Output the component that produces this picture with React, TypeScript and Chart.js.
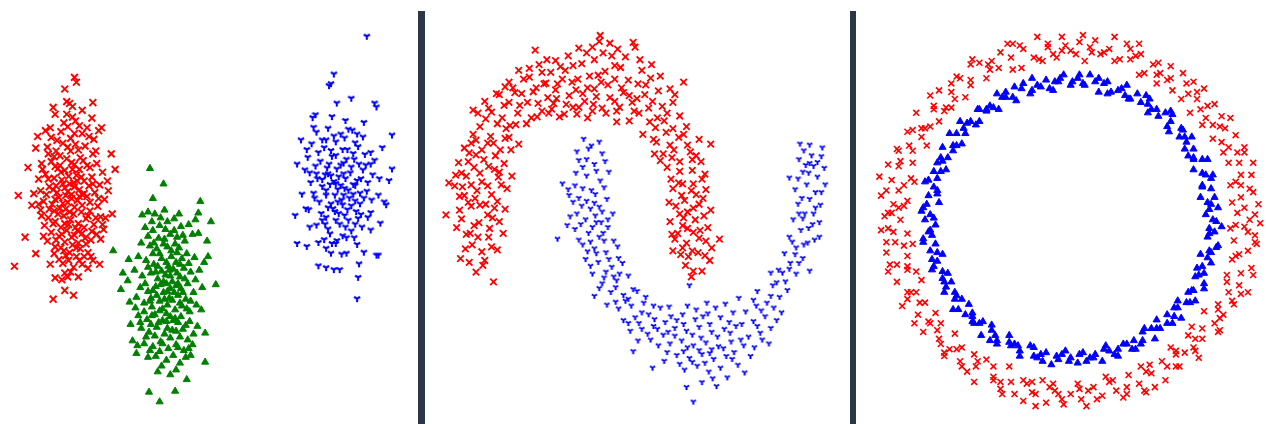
import React, { useEffect, useRef } from "react";
import { Chart, registerables } from "chart.js";

Chart.register(...registerables);

// ---------- Panel 1: three blobs ----------
const blobRed: [number, number][] = [
  [7.0,35.1],[7.2,34.6],[6.0,33.9],[6.5,32.4],[6.8,32.1],[6.2,31.3],[7.8,31.7],[8.8,30.9],[9.8,29.9],[9.5,29.6],
  [5.0,31.3],[4.5,29.9],[4.0,29.6],[3.0,27.8],[11.2,25.6],[1.2,22.9],[2.8,23.1],[3.5,23.4],[0.8,15.6],[3.0,16.9],
  [4.8,12.2],[6.0,13.1],[5.0,14.4],[4.5,15.8],[5.8,15.9],[6.0,14.9],[7.2,16.6],[8.7,16.6],[7.5,16.2],[10.5,23.4],
  [10.2,20.6],[10.0,19.4],[9.7,18.4],[3.6,20.8],[3.5,21.4],
  [4.2,27.9],[5.1,27.5],[5.8,28.3],[6.6,28.8],[7.4,27.6],[8.1,28.0],[8.9,27.2],[4.6,26.4],[5.5,26.0],[6.2,26.7],
  [7.0,26.1],[7.9,26.5],[8.6,25.8],[9.3,26.2],[4.0,25.1],[4.9,24.7],[5.6,25.3],[6.4,24.9],[7.2,25.0],[8.0,24.4],
  [8.8,24.8],[9.6,24.0],[4.4,23.8],[5.2,23.2],[6.0,23.7],[6.7,23.0],[7.5,23.5],[8.3,22.8],[9.1,23.2],[3.8,22.3],
  [4.7,22.0],[5.5,21.6],[6.3,22.2],[7.0,21.7],[7.8,21.9],[8.6,21.3],[9.4,21.8],[4.3,20.6],[5.0,20.2],[5.9,20.8],
  [6.6,20.4],[7.4,20.0],[8.2,20.5],[9.0,19.9],[4.6,19.1],[5.4,18.7],[6.2,19.3],[7.0,18.8],[7.8,19.0],[8.7,18.3],
  [5.0,17.6],[5.9,17.2],[6.8,17.8],[7.6,17.4],[8.4,17.0],[6.4,16.2],
  [5.8,24.1],[6.9,24.2],[6.1,22.9],[7.3,22.4],[5.4,22.7],[6.5,21.2],[7.7,24.8],[6.8,25.6],[5.3,25.7],[4.8,23.5],
  [7.1,19.6],[6.0,20.0],[5.7,18.9],[8.0,23.1],[6.6,27.5],[5.2,28.6],[7.8,29.3],[6.3,30.0],[7.1,30.6],[5.6,29.5],
  [8.3,29.9],[4.6,28.9],[9.0,28.7],[3.6,26.2],[9.9,25.3],[10.1,22.5],[3.3,24.6],[9.7,20.7],[3.9,19.8],[8.9,16.2],
  [5.4,16.3],[6.9,15.5],[7.8,15.8],[6.3,14.5],[8.2,17.9],[4.9,21.3],
  [5.5,27.0],[6.3,27.9],[7.1,28.2],[7.6,26.8],[4.9,26.9],[6.0,25.5],[6.7,26.3],[7.5,25.6],[8.3,26.0],[5.0,25.9],
  [5.7,24.5],[6.5,24.1],[7.3,24.4],[8.5,23.9],[4.3,24.6],[5.1,23.9],[6.3,23.3],[7.0,23.8],[7.8,23.0],[8.9,24.1],
  [4.1,23.0],[5.0,22.5],[5.8,22.1],[6.7,22.6],[7.5,22.8],[8.6,22.2],[4.4,21.5],[5.3,21.0],[6.1,21.5],[6.9,21.0],
  [7.7,21.2],[8.4,20.8],[9.2,20.6],[4.8,20.0],[5.6,19.6],[6.4,19.9],[7.3,19.3],[8.0,19.6],[8.8,19.2],[4.2,18.2],
  [5.1,18.3],[6.0,18.1],[6.7,18.6],[7.4,18.0],[8.1,18.5],[9.3,18.9],[5.6,17.5],[6.5,17.0],[7.2,17.5],[8.0,16.6],
  [6.1,16.7],[4.9,16.9],[7.0,29.3],[8.5,29.0],[5.9,30.4],[6.8,31.0],[7.5,30.1],[9.2,27.5],[4.3,27.2],[3.7,25.6],
  [9.5,22.6],[10.4,24.4],[3.3,22.0],[3.8,18.7],[9.9,19.9],[6.6,15.0],[7.4,14.5],[5.7,14.2],[8.4,15.4],[6.2,32.6],
  [4.8,32.0],[8.9,32.5],[3.2,29.0],[2.2,25.8],[10.8,27.2],[1.9,18.6],[10.9,21.0],[6.9,12.6],[9.6,15.8],[2.6,21.9]
];

const blobGreen: [number, number][] = [
  [14.8,25.7],[16.2,24.1],[15.1,22.6],[20.0,22.3],[19.8,21.1],[21.1,20.2],[11.0,17.2],[20.7,18.2],[20.8,16.6],[21.6,13.7],
  [12.0,14.9],[11.8,13.2],[12.7,11.9],[12.5,14.1],[20.1,11.1],[20.5,8.7],[20.5,5.7],[18.6,3.9],[17.4,2.7],[14.7,2.6],
  [15.8,1.6],[15.6,4.7],[17.5,4.9],[13.5,7.4],[13.0,7.9],[13.4,6.6],[14.6,6.2],[18.5,6.2],[19.0,6.4],[19.2,7.5],[19.7,9.4],
  [14.0,20.9],[14.6,21.2],[15.3,21.0],[15.9,20.6],[16.6,20.2],[17.3,20.5],[18.0,19.7],[18.8,19.9],[19.5,20.4],[14.3,19.6],
  [15.1,19.3],[15.8,19.8],[16.9,18.9],[17.6,18.6],[18.4,18.2],[19.2,18.9],[13.9,18.0],[14.8,17.7],
  [15.5,17.4],[16.2,17.9],[17.0,17.2],[17.8,17.5],[18.6,16.9],[19.4,16.5],[13.6,16.6],[14.4,16.2],[15.2,15.8],[16.0,16.4],
  [16.7,15.6],[17.5,16.0],[18.3,15.4],[19.0,15.0],[13.2,15.2],[14.0,14.6],[14.9,14.9],[15.6,14.3],[16.4,14.7],[17.1,14.0],
  [17.9,14.5],[18.7,13.8],[19.5,14.2],[13.8,13.4],[14.6,13.0],[15.4,13.5],[16.2,12.9],[16.9,13.3],[17.7,12.6],[18.5,12.2],
  [19.3,12.9],[14.2,11.8],[15.0,11.4],[15.8,12.0],[16.6,11.6],[17.4,11.1],[18.1,11.5],[18.9,10.9],[13.6,10.5],[14.5,10.1],
  [15.3,10.6],[16.1,10.0],[16.9,10.4],[17.7,9.8],[18.5,9.5],
  [13.9,9.2],[14.7,8.8],[15.5,9.3],[16.3,8.6],[17.1,9.0],[17.9,8.3],[18.7,8.0],[14.2,7.6],[15.1,7.3],[15.9,7.8],
  [16.7,7.1],[17.5,7.5],[18.3,6.9],[15.4,6.3],[16.5,5.9],[17.2,6.4],
  [16.5,13.8],[17.3,12.9],[16.0,15.1],[17.6,14.9],[16.8,12.3],[17.0,16.6],[16.1,11.2],[15.1,16.9],[16.6,9.2],[14.9,12.3],
  [18.0,13.3],[17.4,10.2],
  [15.0,20.2],[16.3,21.4],[17.8,21.0],[14.6,18.7],[15.7,18.5],[16.4,19.4],[17.3,19.3],[18.2,18.8],[19.8,19.0],[15.2,18.0],
  [16.6,17.6],[17.4,17.9],[18.1,16.4],[15.8,16.9],[16.5,16.0],[17.2,15.3],[17.9,15.8],[18.8,15.9],[14.6,15.5],[15.4,15.0],
  [16.2,14.0],[16.9,14.6],[17.7,13.8],[18.4,14.3],[19.9,15.2],[14.3,13.8],[15.1,13.1],[15.9,13.7],[16.6,13.0],[17.5,13.6],
  [18.2,12.9],[19.0,12.0],[13.4,12.4],[14.8,12.0],[15.5,12.6],[16.3,12.2],[17.1,12.1],[17.9,11.8],[18.6,11.2],[19.6,11.6],
  [14.2,10.9],[15.0,10.5],[15.8,11.0],[16.5,10.7],[17.2,10.0],[18.0,10.4],[18.9,9.9],[13.8,9.8],[14.9,9.6],[15.7,9.8],
  [16.5,9.9],[17.5,8.9],[18.2,9.1],[19.3,8.6],[14.4,8.3],[15.3,8.4],[16.1,7.6],[16.9,8.2],[17.7,7.2],[18.8,7.1],
  [14.8,6.9],[15.8,6.8],[16.0,5.3],[17.9,5.6],[16.9,4.4],[13.3,11.3],[12.8,9.6],[20.2,13.4],[20.4,16.0],[12.6,16.3],
  [16.3,18.4],[15.6,15.6],[17.6,17.0],[16.8,15.2]
];

const blobBlue: [number, number][] = [
  [37.2,39.3],[33.8,35.4],[33.3,34.2],[33.5,34.4],[34.1,32.4],[35.6,32.9],[38.0,32.4],[38.2,32.0],[39.8,29.1],[39.8,25.6],
  [30.4,28.6],[31.6,30.9],[31.9,31.2],[29.8,20.8],[30.0,17.9],[31.0,17.6],[32.2,15.6],[33.0,15.4],[33.8,15.2],[34.4,15.2],
  [36.2,12.2],[36.3,14.4],[38.4,16.7],[38.2,16.7],[39.0,22.2],[39.2,21.9],[39.5,24.4],[38.5,24.6],
  [32.0,29.4],[33.2,29.8],[34.5,29.2],[35.7,29.6],[36.8,28.9],[31.5,28.2],[32.8,27.8],[34.0,28.4],[35.2,27.6],[36.3,27.9],
  [37.6,27.3],[31.1,26.8],[32.4,26.4],[33.6,26.9],[34.8,26.2],[35.9,26.6],[37.1,26.0],[38.0,26.5],[30.8,25.5],[32.0,25.1],
  [33.1,25.7],[34.3,24.8],[35.5,25.2],[36.6,24.6],[37.8,25.0],[31.4,24.2],[32.6,23.8],[33.8,24.3],[34.9,23.6],[36.0,23.9],
  [37.2,23.3],[30.5,23.0],[31.8,22.6],[33.0,22.9],[34.2,22.2],[35.4,22.6],[36.5,22.0],[37.7,22.4],[31.2,21.4],[32.5,21.0],
  [33.7,21.5],[34.9,20.8],[36.1,21.2],[37.3,20.6],[32.0,19.8],[33.2,19.4],[34.4,19.9],[35.6,19.2],[36.7,19.6],[32.8,18.3],
  [34.0,17.9],[35.1,18.5],[36.2,17.8],[34.6,16.8],[33.5,16.9],[36.9,17.0],
  [34.5,23.9],[33.9,22.9],[35.0,24.6],[33.4,24.0],[34.7,21.9],[35.8,23.0],[32.9,25.0],[34.1,25.6],[35.3,20.3],[33.0,20.6],
  [33.0,28.6],[34.9,28.8],[36.2,29.2],[32.2,27.3],[33.5,27.5],[34.7,27.6],[35.8,27.2],[37.0,27.1],[31.9,25.9],[33.3,26.1],
  [34.5,26.0],[35.6,25.8],[36.8,25.5],[31.7,23.1],[33.0,23.4],[34.2,23.5],[35.3,23.4],[36.5,23.1],[32.1,24.6],[33.5,24.9],
  [34.8,25.1],[36.2,24.4],[37.3,24.2],[32.3,22.2],[33.5,22.0],[34.8,22.9],[36.0,22.3],[33.9,21.2],[35.2,21.4],[36.6,20.9],
  [32.6,20.3],[34.0,20.3],[36.0,19.9],[33.4,18.9],[34.7,18.7],[35.9,18.5],[33.6,17.9],[35.1,16.9],[32.2,18.0],[37.6,19.3],
  [30.9,21.5],[38.4,22.9],[38.8,27.8],[30.0,26.1],[35.0,30.6],[33.6,31.0],[36.9,30.4],[37.6,21.1],[31.3,19.6],[36.4,15.8],
  [33.8,29.0],[35.3,29.7],[32.6,28.6],[36.0,28.3],[33.2,25.1],[35.1,26.6],[36.4,26.1],[31.3,25.2],[34.0,27.0],[32.6,24.5],
  [35.8,24.0],[34.0,24.1],[36.9,22.6],[34.6,22.4],[33.2,21.6],[35.6,21.8],[34.3,21.0],[32.9,19.9],[35.0,19.6],[36.3,20.5],
  [34.1,18.2],[33.0,17.4],[37.6,26.1],[31.0,27.6],[38.6,20.0],[31.7,29.9]
];

// ---------- Panel 2: two moons ----------
const moonRed: [number, number][] = [
  [3.0,16.4],[4.2,17.8],[5.5,16.2],[6.8,17.3],[4.6,15.0],[3.6,18.9],[5.9,18.6],[7.4,19.0],[2.6,19.6],[4.9,20.1],
  [6.3,20.6],[2.9,21.4],[4.1,21.8],[5.6,22.0],[7.6,21.5],[1.5,20.9],[6.4,14.0],[5.3,15.7],[3.9,16.0],
  [3.4,22.9],[4.7,23.4],[6.2,23.0],[7.8,23.6],[2.4,23.9],[5.2,24.3],[6.9,24.8],[3.6,24.9],[4.4,25.8],[5.9,25.9],
  [7.5,26.2],[2.8,26.3],[1.8,24.2],[8.3,24.9],[3.8,26.4],
  [3.9,27.3],[5.2,27.6],[6.6,27.0],[8.2,27.6],[4.6,28.6],[6.1,29.0],[7.6,28.8],[9.0,28.2],[5.0,30.0],[6.8,30.3],
  [8.1,30.1],[4.3,29.2],[4.3,31.7],[5.5,32.6],[6.7,33.4],
  [6.2,31.5],[7.5,32.2],[8.9,31.4],[10.3,30.9],[7.0,33.3],[8.6,33.5],[9.9,32.5],[11.4,31.6],[8.0,34.6],[9.5,34.9],
  [10.8,34.0],[12.0,33.0],[10.1,36.0],[11.4,35.6],[10.7,37.9],
  [12.4,31.8],[13.7,31.3],[12.9,32.9],[14.2,33.2],[13.0,34.4],[12.3,35.6],[13.8,35.8],[14.5,34.6],[12.8,36.8],[14.1,37.3],
  [11.6,34.4],
  [15.2,32.0],[16.6,31.6],[15.6,33.4],[17.0,33.1],[15.1,34.9],[16.3,35.2],[17.5,34.6],[15.5,36.5],[16.8,36.9],[15.2,38.1],
  [17.4,39.4],[17.3,38.8],[16.1,30.9],
  [18.0,31.4],[19.4,32.0],[18.4,33.0],[19.8,33.5],[18.9,34.9],[17.9,35.7],[19.5,36.1],[18.6,37.3],[20.3,34.8],[20.8,38.7],
  [21.0,38.2],[19.1,30.5],
  [20.4,30.6],[21.4,31.4],[20.7,32.5],[22.0,33.3],[21.3,34.4],[22.6,35.0],[23.4,33.7],[22.4,31.9],[23.1,29.9],[24.3,31.4],
  [24.9,32.5],[22.7,36.4],[21.8,29.2],[26.0,34.6],[25.1,33.3],
  [23.2,28.4],[24.2,29.4],[25.5,28.9],[26.3,30.0],[23.9,27.2],[25.0,27.6],[26.4,28.1],[27.3,27.0],[24.3,25.8],[25.6,26.4],
  [26.9,25.5],[28.8,28.2],[27.8,26.4],[24.7,24.6],[23.6,26.5],
  [24.9,23.6],[25.8,22.9],[27.0,24.1],[28.3,23.5],[25.2,21.8],[26.4,21.2],[27.6,22.0],[28.8,21.4],[24.6,20.2],[25.9,19.8],
  [27.2,20.4],[28.5,19.6],[26.1,22.4],[27.3,23.0],
  [25.1,18.4],[26.3,18.0],[27.6,18.5],[29.7,18.4],[25.7,16.8],[26.9,17.2],[28.2,16.7],[27.0,15.1],[28.7,16.2],[24.9,17.2],
  [26.2,15.7],[27.9,15.1],
  [3.5,17.4],[4.8,18.6],[6.2,17.6],[3.1,20.5],[4.4,19.8],[5.8,20.9],[7.0,20.2],[3.8,22.2],[5.0,21.9],[6.8,22.3],
  [2.9,22.8],[4.1,24.0],[5.8,23.9],[7.2,24.0],[3.1,25.2],[5.0,25.2],[6.5,25.6],[3.4,27.8],[4.6,27.1],[5.8,28.3],
  [7.1,27.6],[8.0,28.9],[5.6,30.8],[7.3,30.9],[4.8,31.4],
  [8.0,32.5],[9.3,33.4],[9.8,30.3],[11.0,32.4],[10.5,33.6],[11.8,34.5],[12.8,33.8],[13.5,34.9],[11.1,36.4],[13.3,36.2],
  [12.1,31.4],[9.0,35.8],[7.6,34.1],[14.6,36.3],[13.9,32.3],
  [15.0,31.3],[15.8,32.6],[16.7,32.3],[17.6,31.9],[16.1,34.0],[17.2,35.3],[18.2,34.3],[16.0,37.6],[17.7,37.6],[18.9,36.3],
  [19.6,34.0],[20.4,33.2],[20.0,37.2],[21.7,35.8],[19.1,31.6],[18.4,38.6],
  [21.2,32.9],[22.8,32.6],[23.8,32.1],[22.1,34.3],[24.0,30.6],[25.6,31.1],[22.9,28.7],[24.6,28.1],[26.0,29.2],[25.6,25.4],
  [26.9,26.6],[24.8,26.8],[27.6,28.7],[23.3,30.9],[28.2,25.1],
  [25.5,24.2],[26.8,23.4],[28.0,22.6],[25.6,21.0],[27.0,21.6],[28.1,20.8],[26.4,19.5],[27.7,19.3],[24.8,18.9],[26.5,16.6],
  [27.5,17.0],[28.9,17.5],[25.4,19.0],[26.0,20.6],
  [4.0,19.0],[5.2,17.1],[6.0,19.5],[3.2,23.8],[4.5,22.6],[6.5,21.6],[2.5,25.0],[5.4,26.6],[7.0,25.3],[4.1,28.3],
  [6.4,28.3],[7.7,29.8],[5.9,31.9],[8.7,30.2],[9.1,32.2],[10.9,31.0],[8.4,34.0],[10.1,35.1],[11.9,36.9],[12.6,32.4],
  [13.2,31.0],[14.6,32.0],[14.9,33.8],[16.8,33.9],[16.6,38.2],[18.9,32.6],[19.2,38.0],[20.9,31.6],[21.5,36.9],[22.5,30.5],
  [23.6,35.2],[24.6,33.9],[23.0,27.2],[24.9,29.8],[26.7,27.4],[25.9,24.1],[27.9,24.6],[24.5,22.2],[27.0,19.1],[28.3,18.2],
  [25.9,17.5],[26.8,14.5]
];

const moonBlue: [number, number][] = [
  [15.7,28.7],[17.3,28.4],[16.2,27.7],[17.6,27.2],[15.2,26.5],[16.8,26.1],[18.3,25.3],[14.9,25.2],[16.0,24.9],[17.4,24.4],
  [13.5,24.1],[14.1,23.5],[15.6,23.6],[16.9,23.0],[18.1,22.5],
  [14.6,22.2],[15.5,21.8],[16.4,21.5],[17.6,21.2],[18.7,21.0],[14.3,20.7],[15.9,20.4],[17.0,20.1],[18.2,19.6],[14.8,19.4],
  [16.2,19.0],[17.3,18.6],[18.8,18.2],[13.0,18.4],[15.6,17.8],[16.8,17.4],[18.0,17.0],[19.2,17.6],
  [15.9,16.3],[17.2,16.0],[18.6,15.5],[19.7,15.9],[16.6,14.8],[17.8,14.4],[19.1,14.1],[20.3,14.6],[17.3,13.3],[18.5,12.9],
  [19.8,12.6],[21.2,13.0],[16.8,12.5],[18.1,11.6],
  [19.3,11.2],[20.6,11.5],[21.9,11.8],[19.8,10.0],[21.0,10.3],[22.4,10.6],[23.6,11.3],[20.5,8.9],[21.7,9.1],[22.9,9.4],
  [24.1,9.8],[21.3,7.9],[22.6,8.0],[23.9,8.5],[22.8,5.1],[20.8,6.8],[24.5,11.4],[26.6,13.6],
  [24.7,10.4],[25.9,10.6],[27.2,10.1],[28.5,10.7],[29.8,10.3],[31.1,10.8],[25.1,9.2],[26.3,8.9],[27.6,9.3],[28.9,8.8],
  [30.2,9.1],[31.4,9.4],[24.6,7.6],[25.8,7.9],[27.0,7.4],[28.3,7.7],[29.6,7.3],[30.9,7.8],[25.3,6.4],[26.6,6.1],
  [27.9,6.5],[29.1,6.0],[30.4,6.3],[26.1,4.9],[27.4,5.3],[28.6,4.7],[30.5,4.1],[27.0,1.6],[26.3,3.1],[24.0,5.8],
  [31.6,5.4],[32.3,4.6],[28.4,11.8],[31.7,12.3],
  [32.4,10.9],[33.5,11.5],[32.0,9.6],[33.2,9.9],[34.4,10.4],[32.7,8.3],[33.9,8.7],[35.0,9.2],[34.6,11.8],[35.9,12.4],
  [33.3,7.2],[34.8,7.6],[36.1,10.8],[33.6,13.0],[32.9,6.3],
  [35.2,13.6],[36.5,14.0],[37.6,14.8],[35.8,15.2],[37.0,15.9],[38.3,16.4],[36.4,16.9],[37.6,17.5],[38.8,18.0],[40.0,18.6],
  [36.9,18.6],[38.1,19.3],[39.3,19.9],[35.0,14.9],[39.0,15.1],
  [37.3,20.4],[38.5,21.0],[39.6,21.6],[37.8,22.0],[39.0,22.5],[40.2,23.2],[37.5,23.5],[38.7,24.0],[39.8,24.8],[38.3,25.3],
  [39.4,25.9],[40.5,25.7],[37.9,26.6],[39.2,27.0],[40.2,26.9],[39.0,28.1],[38.0,28.2],[36.9,24.7],[40.6,24.0],
  [16.5,28.0],[15.0,27.4],[17.0,25.4],[15.6,25.8],[16.5,23.4],[14.8,23.9],[17.8,23.7],[15.2,22.6],[16.8,22.1],[15.0,21.0],
  [16.9,20.8],[18.2,20.4],[15.4,19.9],[16.6,19.6],[17.7,19.0],[15.2,18.3],[16.4,18.1],[17.8,18.2],[17.0,16.9],[18.3,16.3],
  [16.4,15.6],[18.0,15.0],[19.4,14.8],[17.6,13.8],[19.0,13.4],[20.3,12.2],
  [20.0,12.0],[21.7,10.8],[23.0,10.1],[21.4,9.7],[22.3,8.6],[23.4,7.4],[24.4,8.8],[25.3,10.0],[26.0,9.6],[26.9,8.5],
  [27.8,8.2],[28.7,9.6],[29.5,8.3],[30.8,8.7],[31.9,8.0],[26.4,7.2],[27.6,6.9],[28.9,7.0],[30.1,7.1],[25.6,5.5],
  [26.9,5.7],[28.2,5.6],[29.8,5.1],[31.2,6.7],[27.9,3.6],[29.4,3.2],[26.4,11.5],[30.3,11.7],[24.3,6.7],
  [32.2,7.4],[33.6,9.4],[34.1,8.0],[34.0,11.0],[35.3,11.3],[35.6,10.0],[35.6,13.9],[36.7,13.1],[36.9,15.3],[37.9,15.9],
  [37.5,16.8],[38.4,17.8],[38.9,19.5],[38.3,20.5],[39.4,21.0],[38.2,22.6],[39.6,23.2],[38.9,25.2],[39.8,26.3],[38.6,26.0],
  [40.1,21.9],
  [16.0,26.6],[17.9,26.4],[14.2,22.9],[16.0,22.3],[17.3,21.7],[14.0,19.8],[17.5,20.1],[16.1,17.1],[19.3,16.4],[18.8,14.5],
  [20.8,13.2],[19.0,11.9],[22.1,12.4],[22.9,11.5],[20.3,9.7],[23.3,9.1],[25.1,8.4],[27.3,11.1],[28.0,10.4],[29.3,11.3],
  [30.7,9.8],[26.0,6.8],[28.7,6.6],[31.0,6.0],[29.0,4.0],[33.2,12.1],[35.0,12.5],[36.2,14.9],[37.2,18.1],[39.5,18.3],
  [37.9,21.0],[40.0,20.1],[37.8,24.6],[39.0,26.2],[40.3,27.8],[38.4,27.5]
];

// ---------- Panel 3: two concentric circles ----------
const circleOuter: [number, number][] = [
  [1.02,0.00],[0.95,0.04],[1.07,0.09],[0.97,0.13],[1.02,0.18],[0.91,0.20],[0.97,0.26],[1.04,0.33],[0.90,0.33],[0.95,0.39],
  [0.90,0.42],[0.94,0.49],[0.81,0.47],[0.85,0.54],[0.86,0.60],[0.77,0.59],[0.78,0.66],[0.68,0.62],[0.76,0.76],[0.67,0.73],
  [0.66,0.79],[0.58,0.75],[0.57,0.82],[0.57,0.89],[0.49,0.84],[0.47,0.90],[0.39,0.84],[0.40,0.96],[0.34,0.93],[0.32,1.02],
  [0.25,0.92],[0.22,0.99],[0.17,0.96],[0.14,1.04],[0.08,0.92],[0.05,1.03],
  [0.92,0.10],[1.03,0.26],[0.87,0.39],[0.91,0.59],[0.74,0.64],[0.70,0.80],[0.49,0.79],[0.39,1.02],[0.19,0.97],[0.03,0.96],
  [0.00,0.98],[-0.05,1.06],[-0.08,0.94],[-0.13,1.00],[-0.19,1.06],[-0.21,0.94],[-0.27,0.99],[-0.28,0.88],[-0.34,0.94],[-0.40,0.97],
  [-0.41,0.88],[-0.47,0.90],[-0.48,0.82],[-0.57,0.90],[-0.57,0.81],[-0.63,0.82],[-0.60,0.71],[-0.68,0.74],[-0.75,0.75],[-0.71,0.65],
  [-0.78,0.66],[-0.75,0.57],[-0.88,0.62],[-0.83,0.53],[-0.90,0.52],[-0.82,0.43],[-0.92,0.43],[-0.99,0.41],[-0.90,0.33],[-0.98,0.31],
  [-0.91,0.24],[-1.02,0.23],[-0.98,0.17],[-1.08,0.14],[-0.95,0.08],[-1.02,0.04],
  [-0.03,1.01],[-0.16,0.92],[-0.36,1.02],[-0.52,0.91],[-0.66,0.70],[-0.80,0.72],[-0.85,0.48],[-1.04,0.32],[-0.93,0.11],[-1.06,0.02],
  [-0.97,0.00],[-1.04,-0.05],[-0.93,-0.08],[-1.00,-0.13],[-1.05,-0.19],[-0.93,-0.21],[-0.99,-0.26],[-0.93,-0.29],[-0.99,-0.36],[-0.85,-0.35],
  [-0.91,-0.42],[-0.96,-0.50],[-0.83,-0.48],[-0.87,-0.55],[-0.77,-0.54],[-0.84,-0.65],[-0.76,-0.64],[-0.75,-0.69],[-0.66,-0.66],[-0.72,-0.79],
  [-0.62,-0.74],[-0.63,-0.82],[-0.55,-0.78],[-0.54,-0.85],[-0.55,-0.94],[-0.44,-0.85],[-0.44,-0.93],[-0.35,-0.85],[-0.34,-0.94],[-0.32,-1.01],
  [-0.25,-0.95],[-0.22,-1.00],[-0.16,-0.93],[-0.14,-1.06],[-0.09,-0.99],[-0.05,-1.04],
  [-1.08,-0.06],[-0.90,-0.14],[-1.04,-0.30],[-0.88,-0.42],[-0.80,-0.60],[-0.69,-0.75],[-0.59,-0.88],[-0.40,-0.98],[-0.27,-1.05],[-0.12,-0.97],
  [-0.20,-1.08],
  [0.00,-1.01],[0.04,-0.95],[0.09,-1.08],[0.13,-0.97],[0.18,-1.02],[0.20,-0.91],[0.26,-0.99],[0.32,-1.01],[0.33,-0.90],[0.39,-0.95],
  [0.40,-0.85],[0.46,-0.89],[0.54,-0.93],[0.52,-0.82],[0.60,-0.85],[0.57,-0.74],[0.65,-0.77],[0.73,-0.80],[0.67,-0.67],[0.75,-0.69],
  [0.75,-0.63],[0.84,-0.65],[0.76,-0.53],[0.87,-0.55],[0.84,-0.49],[0.93,-0.49],[0.90,-0.42],[1.01,-0.42],[0.89,-0.32],[0.97,-0.31],
  [1.03,-0.28],[0.94,-0.21],[1.01,-0.18],[0.93,-0.12],[1.05,-0.09],[0.99,-0.04],
  [0.06,-1.04],[0.24,-0.93],[0.43,-1.00],[0.60,-0.78],[0.82,-0.60],[0.70,-0.74],[0.96,-0.38],[1.06,-0.14],[0.91,-0.05],[1.08,-0.02],
  [0.48,-0.97],
  [0.99,0.07],[1.04,0.16],[0.94,0.22],[0.96,0.33],[0.99,0.42],[0.86,0.45],[0.88,0.53],[0.75,0.55],[0.82,0.67],[0.72,0.70],
  [0.63,0.70],[0.64,0.85],[0.55,0.81],[0.50,0.91],[0.42,0.85],[0.37,0.95],[0.28,0.93],[0.25,1.06],[0.12,0.97],[0.07,1.07],
  [-0.05,0.98],[-0.13,1.02],[-0.18,0.93],[-0.29,1.01],[-0.33,0.87],[-0.45,0.92],[-0.56,0.93],[-0.57,0.78],[-0.68,0.79],[-0.68,0.65],
  [-0.78,0.64],[-0.80,0.54],[-0.93,0.51],[-0.90,0.40],[-0.97,0.34],[-0.89,0.22],[-1.05,0.17],[-0.98,0.07],[-1.09,0.25],[-1.01,0.09],
  [-1.01,-0.07],[-0.95,-0.15],[-1.03,-0.26],[-0.88,-0.30],[-0.93,-0.42],[-0.86,-0.48],[-0.89,-0.60],[-0.74,-0.60],[-0.74,-0.72],[-0.65,-0.75],
  [-0.62,-0.85],[-0.48,-0.81],[-0.44,-0.91],[-0.39,-1.01],[-0.27,-0.93],[-0.20,-1.01],[-0.10,-0.95],[-0.04,-1.07],
  [0.05,-0.98],[0.15,-1.04],[0.22,-0.94],[0.32,-0.97],[0.42,-0.99],[0.45,-0.84],[0.55,-0.85],[0.60,-0.76],[0.71,-0.76],[0.69,-0.62],
  [0.85,-0.64],[0.84,-0.52],[0.92,-0.47],[0.89,-0.36],[1.04,-0.32],[0.96,-0.20],[1.05,-0.13],[0.94,-0.03],
  [1.05,0.03],[0.97,0.20],[0.99,0.39],[0.81,0.55],[0.72,0.74],[0.51,0.85],[0.34,0.99],[0.11,1.00],
  [-0.10,0.96],[-0.33,1.02],[-0.46,0.87],[-0.65,0.83],[-0.72,0.63],[-0.85,0.53],[-0.98,0.40],[-0.95,0.20],[-1.04,0.04],
  [-1.05,-0.13],[-0.93,-0.27],[-0.93,-0.46],[-0.81,-0.59],[-0.72,-0.77],[-0.53,-0.82],[-0.40,-0.94],[-0.22,-0.94],[-0.07,-1.01],
  [0.10,-0.99],[0.30,-1.03],[0.43,-0.88],[0.62,-0.85],[0.71,-0.69],[0.85,-0.57],[0.97,-0.43],[0.92,-0.23],[1.01,-0.07]
];

const circleInner: [number, number][] = [
  [0.81,0.00],[0.77,0.03],[0.84,0.07],[0.78,0.10],[0.74,0.13],[0.80,0.18],[0.75,0.20],[0.81,0.26],[0.75,0.27],[0.70,0.29],
  [0.75,0.35],[0.70,0.36],[0.70,0.41],[0.65,0.41],[0.69,0.48],[0.62,0.48],[0.63,0.53],[0.56,0.51],[0.57,0.57],[0.57,0.63],
  [0.50,0.60],[0.49,0.64],[0.44,0.62],[0.45,0.70],[0.40,0.68],[0.38,0.73],[0.33,0.70],[0.32,0.78],[0.27,0.75],[0.23,0.74],
  [0.21,0.80],[0.16,0.74],[0.14,0.80],[0.11,0.84],[0.07,0.79],[0.04,0.82],
  [0.00,0.78],[-0.04,0.84],[-0.07,0.80],[-0.10,0.75],[-0.14,0.81],[-0.17,0.77],[-0.22,0.82],[-0.23,0.73],[-0.28,0.76],[-0.32,0.77],
  [-0.33,0.71],[-0.37,0.71],[-0.42,0.73],[-0.41,0.64],[-0.46,0.66],[-0.48,0.63],[-0.53,0.64],[-0.52,0.57],[-0.57,0.57],[-0.63,0.57],
  [-0.60,0.50],[-0.65,0.50],[-0.62,0.44],[-0.67,0.43],[-0.73,0.42],[-0.70,0.36],[-0.73,0.34],[-0.71,0.29],[-0.78,0.28],[-0.76,0.24],
  [-0.83,0.22],[-0.76,0.17],[-0.81,0.14],[-0.75,0.10],[-0.84,0.07],[-0.80,0.03],
  [-0.83,0.00],[-0.77,-0.03],[-0.81,-0.07],[-0.84,-0.11],[-0.77,-0.14],[-0.80,-0.18],[-0.73,-0.20],[-0.76,-0.24],[-0.79,-0.29],[-0.73,-0.30],
  [-0.73,-0.34],[-0.68,-0.36],[-0.72,-0.42],[-0.66,-0.42],[-0.66,-0.46],[-0.67,-0.52],[-0.58,-0.49],[-0.60,-0.55],[-0.56,-0.56],[-0.55,-0.60],
  [-0.50,-0.59],[-0.51,-0.67],[-0.45,-0.64],[-0.43,-0.67],[-0.42,-0.72],[-0.35,-0.67],[-0.34,-0.73],[-0.30,-0.73],[-0.29,-0.79],[-0.23,-0.73],
  [-0.21,-0.79],[-0.17,-0.78],[-0.14,-0.77],[-0.11,-0.84],[-0.07,-0.81],[-0.03,-0.76],
  [0.00,-0.80],[0.04,-0.83],[0.07,-0.77],[0.11,-0.80],[0.14,-0.78],[0.18,-0.82],[0.20,-0.73],[0.25,-0.78],[0.27,-0.75],[0.30,-0.72],
  [0.35,-0.75],[0.36,-0.70],[0.41,-0.70],[0.41,-0.65],[0.48,-0.69],[0.49,-0.63],[0.49,-0.58],[0.55,-0.60],[0.55,-0.55],[0.63,-0.57],
  [0.61,-0.51],[0.61,-0.47],[0.68,-0.48],[0.67,-0.42],[0.70,-0.41],[0.76,-0.40],[0.71,-0.33],[0.76,-0.31],[0.75,-0.27],[0.80,-0.25],
  [0.74,-0.20],[0.79,-0.18],[0.84,-0.15],[0.78,-0.10],[0.82,-0.07],[0.86,-0.04],
  [0.79,0.06],[0.82,0.13],[0.75,0.19],[0.77,0.26],[0.78,0.35],[0.67,0.37],[0.66,0.45],[0.64,0.52],[0.55,0.54],[0.54,0.62],
  [0.46,0.64],[0.43,0.72],[0.34,0.70],[0.29,0.76],[0.21,0.73],[0.16,0.82],[0.08,0.78],[0.01,0.80],
  [-0.06,0.82],[-0.12,0.76],[-0.19,0.78],[-0.27,0.79],[-0.31,0.69],[-0.39,0.71],[-0.44,0.65],[-0.52,0.64],[-0.54,0.55],[-0.61,0.53],
  [-0.69,0.50],[-0.67,0.40],[-0.74,0.36],[-0.74,0.28],[-0.81,0.23],[-0.76,0.15],[-0.82,0.09],[-0.78,0.01],
  [-0.80,-0.06],[-0.84,-0.13],[-0.76,-0.19],[-0.78,-0.27],[-0.70,-0.31],[-0.71,-0.39],[-0.65,-0.44],[-0.64,-0.52],[-0.56,-0.54],[-0.52,-0.60],
  [-0.45,-0.61],[-0.42,-0.70],[-0.35,-0.71],[-0.29,-0.76],[-0.21,-0.74],[-0.16,-0.82],[-0.08,-0.79],[-0.01,-0.82],
  [0.05,-0.78],[0.13,-0.80],[0.19,-0.75],[0.27,-0.79],[0.32,-0.72],[0.40,-0.72],[0.42,-0.63],[0.51,-0.63],[0.58,-0.60],[0.59,-0.51],
  [0.66,-0.48],[0.69,-0.41],[0.76,-0.37],[0.72,-0.28],[0.78,-0.22],[0.83,-0.16],[0.79,-0.08],[0.83,-0.01],
  [0.80,0.09],[0.80,0.24],[0.70,0.35],[0.65,0.48],[0.58,0.61],[0.44,0.67],[0.31,0.72],[0.19,0.79],[0.05,0.84],
  [-0.09,0.80],[-0.22,0.75],[-0.37,0.74],[-0.48,0.64],[-0.59,0.56],[-0.65,0.43],[-0.76,0.33],[-0.78,0.19],[-0.85,0.05],
  [-0.79,-0.09],[-0.79,-0.23],[-0.72,-0.36],[-0.62,-0.46],[-0.56,-0.59],[-0.46,-0.70],[-0.32,-0.72],[-0.19,-0.80],[-0.05,-0.78],
  [0.09,-0.82],[0.22,-0.76],[0.37,-0.75],[0.46,-0.63],[0.59,-0.56],[0.71,-0.47],[0.73,-0.32],[0.80,-0.19],[0.79,-0.05]
];

const RED = "#ff0000";
const GREEN = "#008000";
const BLUE = "#0000ff";

function makeTriDown(color: string, size: number, lw: number): HTMLCanvasElement {
  const c = document.createElement("canvas");
  c.width = size;
  c.height = size;
  const ctx = c.getContext("2d")!;
  ctx.strokeStyle = color;
  ctx.lineWidth = lw;
  ctx.lineCap = "butt";
  const cx = size / 2, cy = size / 2 - 0.5;
  const r = size / 2 - 0.5;
  ctx.beginPath();
  ctx.moveTo(cx, cy); ctx.lineTo(cx, cy + r);
  ctx.moveTo(cx, cy); ctx.lineTo(cx - r * 0.87, cy - r * 0.5);
  ctx.moveTo(cx, cy); ctx.lineTo(cx + r * 0.87, cy - r * 0.5);
  ctx.stroke();
  return c;
}

type Marker = "x" | "tri" | "triDown";

type SeriesDef = { pts: [number, number][]; color: string; marker: Marker; radius: number; lw: number };

function buildDataset(s: SeriesDef) {
  const base: any = {
    data: s.pts.map(([x, y]) => ({ x, y })),
    clip: false,
  };
  if (s.marker === "x") {
    return { ...base, pointStyle: "crossRot", pointRadius: s.radius, pointBorderWidth: s.lw, pointBorderColor: s.color, pointBackgroundColor: s.color };
  }
  if (s.marker === "tri") {
    return { ...base, pointStyle: "triangle", pointRadius: s.radius, pointBorderWidth: s.lw, pointBorderColor: s.color, pointBackgroundColor: s.color };
  }
  const img = makeTriDown(s.color, Math.round(s.radius * 2), s.lw);
  return { ...base, pointStyle: img, pointRadius: s.radius, pointBorderWidth: 0 };
}

function Panel(props: { left: number; width: number; xMin: number; xMax: number; yMin: number; yMax: number; series: SeriesDef[] }) {
  const ref = useRef<HTMLCanvasElement>(null);
  useEffect(() => {
    const canvas = ref.current;
    if (!canvas) return;
    const chart = new Chart(canvas, {
      type: "scatter",
      data: { datasets: props.series.map((s) => buildDataset(s)) },
      options: {
        animation: false,
        responsive: false,
        events: [],
        layout: { padding: 0 },
        plugins: { legend: { display: false }, tooltip: { enabled: false } },
        scales: {
          x: { type: "linear", display: false, min: props.xMin, max: props.xMax },
          y: { type: "linear", display: false, min: props.yMin, max: props.yMax },
        },
      },
    } as any);
    return () => chart.destroy();
  }, []);
  return (
    <div style={{ position: "absolute", left: props.left, top: 0, width: props.width, height: 424 }}>
      <canvas ref={ref} width={props.width} height={424} style={{ display: "block" }} />
    </div>
  );
}

export default function App() {
  const divider = (left: number, width: number) => (
    <div style={{ position: "absolute", left, top: 11, width, height: 413, background: "#2b3746" }} />
  );
  return (
    <div style={{ position: "fixed", left: 0, top: 0, width: 1266, height: 424, background: "#ffffff", overflow: "hidden" }}>
      <Panel
        left={0}
        width={418}
        xMin={0}
        xMax={41.8}
        yMin={0}
        yMax={42.4}
        series={[
          { pts: blobRed, color: RED, marker: "x", radius: 4.8, lw: 1.9 },
          { pts: blobGreen, color: GREEN, marker: "tri", radius: 4.1, lw: 1 },
          { pts: blobBlue, color: BLUE, marker: "triDown", radius: 4, lw: 2.1 },
        ]}
      />
      <Panel
        left={425}
        width={425}
        xMin={0}
        xMax={42.5}
        yMin={0}
        yMax={42.4}
        series={[
          { pts: moonRed, color: RED, marker: "x", radius: 4.6, lw: 1.8 },
          { pts: moonBlue, color: BLUE, marker: "triDown", radius: 3.5, lw: 2 },
        ]}
      />
      <Panel
        left={856}
        width={410}
        xMin={-1.19}
        xMax={1.08}
        yMin={-1.15}
        yMax={1.24}
        series={[
          { pts: circleOuter, color: RED, marker: "x", radius: 4.2, lw: 1.6 },
          { pts: circleInner, color: BLUE, marker: "tri", radius: 4.1, lw: 1 },
        ]}
      />
      {divider(418, 7)}
      {divider(850, 6)}
    </div>
  );
}
